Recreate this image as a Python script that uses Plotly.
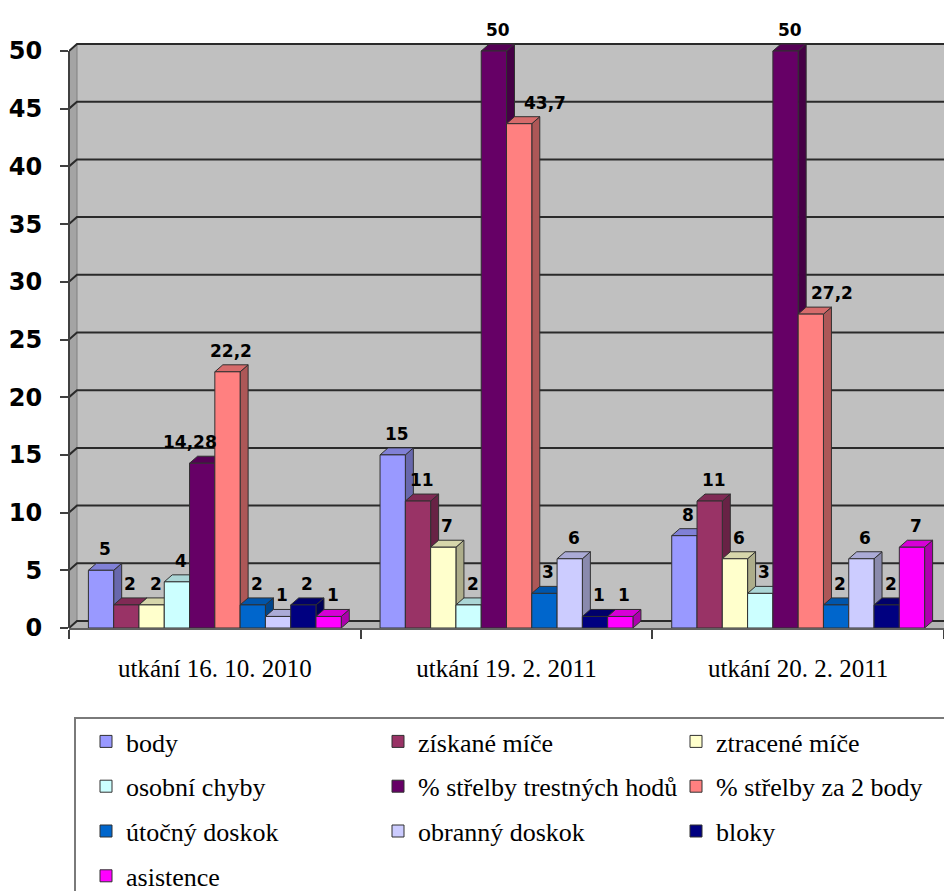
import plotly.graph_objects as go

# ---- data -------------------------------------------------------------
categories = ["utkání 16. 10. 2010", "utkání 19. 2. 2011", "utkání 20. 2. 2011"]

series_names = [
    "body", "získané míče", "ztracené míče", "osobní chyby",
    "% střelby trestných hodů", "% střelby za 2 body",
    "útočný doskok", "obranný doskok", "bloky", "asistence",
]

body = [5, 15, 8]
ziskane_mice = [2, 11, 11]
ztracene_mice = [2, 7, 6]
osobni_chyby = [4, 2, 3]
strelba_trestne = [14.28, 50, 50]
strelba_za_2 = [22.2, 43.7, 27.2]
utocny_doskok = [2, 3, 2]
obranny_doskok = [1, 6, 6]
bloky = [2, 1, 2]
asistence = [1, 1, 7]

series_values = [
    body, ziskane_mice, ztracene_mice, osobni_chyby, strelba_trestne,
    strelba_za_2, utocny_doskok, obranny_doskok, bloky, asistence,
]

y_ticks = [0, 5, 10, 15, 20, 25, 30, 35, 40, 45, 50]

# ---- style ------------------------------------------------------------
colors = [
    "#9999FF", "#993366", "#FFFFCC", "#CCFFFF", "#660066",
    "#FF8080", "#0066CC", "#CCCCFF", "#000080", "#FF00FF",
]

W, H = 944, 891
M_L, M_R, M_T, M_B = 69, 0, 21, 263
PLOT_W = W - M_L - M_R
PLOT_H = H - M_T - M_B
X0, X1 = -0.5, 2.5
PX_PER_UNIT = 577 / 50.0
YMAX = PLOT_H / PX_PER_UNIT

DX = 8 / (PLOT_W / (X1 - X0))   # depth of the 3-D boxes, horizontal
DY = 7 / PX_PER_UNIT            # depth of the 3-D boxes, vertical
BW = 0.0867                     # bar width in category units
WALL_TOP = y_ticks[-1]

# label nudges (px) for the few labels that sit off-centre
label_nudge = {(4, 0): -16, (5, 1): 22, (5, 2): 17}

SERIF = "Liberation Serif"


def shade(hex_color, f):
    h = hex_color.lstrip("#")
    r, g, b = (int(h[i:i + 2], 16) for i in (0, 2, 4))
    return "#%02x%02x%02x" % (int(r * f), int(g * f), int(b * f))


def px_to_paper_x(px):
    return (px - M_L) / PLOT_W


def px_to_paper_y(py):
    return (H - M_B - py) / PLOT_H


fig = go.Figure()
shapes = []

# back wall, left wall and floor
shapes.append(dict(type="rect", xref="x", yref="y", layer="below",
                   x0=X0 + DX, x1=X1 + 0.1, y0=DY, y1=WALL_TOP + DY,
                   fillcolor="#C0C0C0", line=dict(width=0)))
shapes.append(dict(type="path", xref="x", yref="y", layer="below",
                   path=f"M{X0},0 L{X0 + DX},{DY} L{X0 + DX},{WALL_TOP + DY} L{X0},{WALL_TOP} Z",
                   fillcolor="#A4A4A4", line=dict(color="#808080", width=1)))
shapes.append(dict(type="path", xref="x", yref="y", layer="below",
                   path=f"M{X0},0 L{X0 + DX},{DY} L{X1 + 0.1},{DY} L{X1 + 0.1},0 Z",
                   fillcolor="#B4B4B4", line=dict(width=0)))

# gridlines on the walls
for v in y_ticks:
    shapes.append(dict(type="path", xref="x", yref="y", layer="below",
                       path=f"M{X0},{v} L{X0 + DX},{v + DY} L{X1 + 0.1},{v + DY}",
                       line=dict(color="#2a2a2a", width=2)))

annotations = []
for k, (name, vals, col) in enumerate(zip(series_names, series_values, colors)):
    offset = (k - 4.5) * BW
    xs = [i + offset for i in range(len(categories))]
    col_idx = k % 3
    fig.add_trace(go.Bar(
        x=xs, y=vals, width=BW, name=name,
        marker=dict(color=col, line=dict(color="#303030", width=1)),
        legend="legend" if col_idx == 0 else "legend%d" % (col_idx + 1),
        legendgroup="g%d" % k,
        hoverinfo="skip",
    ))
    for i, (x, v) in enumerate(zip(xs, vals)):
        xl, xr = x - BW / 2, x + BW / 2
        # right side face
        shapes.append(dict(type="path", xref="x", yref="y", layer="below",
                           path=f"M{xr},0 L{xr + DX},{DY} L{xr + DX},{v + DY} L{xr},{v} Z",
                           fillcolor=shade(col, 0.68), line=dict(color="#303030", width=1)))
        # top face
        shapes.append(dict(type="path", xref="x", yref="y", layer="below",
                           path=f"M{xl},{v} L{xl + DX},{v + DY} L{xr + DX},{v + DY} L{xr},{v} Z",
                           fillcolor=shade(col, 0.84), line=dict(color="#303030", width=1)))
        annotations.append(dict(
            x=x + DX / 2, y=v + DY, xref="x", yref="y",
            text=str(v).replace(".", ","), showarrow=False,
            yanchor="bottom", yshift=2, xshift=label_nudge.get((k, i), 0),
            font=dict(family="DejaVu Sans", size=17, color="black", weight="bold"),
        ))

# front-left axis edge, up to the top of the wall
shapes.append(dict(type="line", xref="paper", yref="paper", layer="above",
                   x0=0, x1=0, y0=0, y1=WALL_TOP / YMAX,
                   line=dict(color="#404040", width=2)))

# legend frame
shapes.append(dict(type="rect", xref="paper", yref="paper", layer="above",
                   x0=px_to_paper_x(75), x1=px_to_paper_x(960),
                   y0=px_to_paper_y(905), y1=px_to_paper_y(718),
                   line=dict(color="#7a7a7a", width=2), fillcolor="rgba(0,0,0,0)"))

# three legend columns, each item in its own group so the rows can be spaced
legend_font = dict(family=SERIF, size=26, color="black")
column_x = [86, 378, 676]
legends = {}
for c, xpx in enumerate(column_x):
    key = "legend" if c == 0 else "legend%d" % (c + 1)
    legends[key] = dict(
        orientation="v", xref="container", yref="container",
        x=xpx / W, y=1 - 718 / H, xanchor="left", yanchor="top",
        font=legend_font, bgcolor="rgba(0,0,0,0)", borderwidth=0,
        traceorder="grouped", tracegroupgap=8,
    )

fig.update_layout(
    width=W, height=H,
    font=dict(family=SERIF, size=24, color="black"),
    margin=dict(l=M_L, r=M_R, t=M_T, b=M_B, pad=0, autoexpand=False),
    paper_bgcolor="white", plot_bgcolor="rgba(0,0,0,0)",
    barmode="overlay",
    showlegend=True,
    shapes=shapes,
    annotations=annotations,
    xaxis=dict(
        range=[X0, X1], tickvals=list(range(len(categories))), ticktext=categories,
        ticks="", showgrid=False, zeroline=False,
        showline=True, linecolor="#606060", linewidth=2,
        tickfont=dict(family=SERIF, size=25, color="black"),
        ticklabelstandoff=17,
        minor=dict(tickvals=[X0 + i for i in range(len(categories) + 1)],
                   ticks="outside", ticklen=9, tickwidth=2, tickcolor="#404040"),
    ),
    yaxis=dict(
        range=[0, YMAX], tickvals=y_ticks, ticks="outside", ticklen=8,
        tickwidth=2, tickcolor="#404040", showgrid=False, zeroline=False,
        showline=False,
        tickfont=dict(family="DejaVu Sans", size=24, color="black", weight="bold"),
        ticklabelstandoff=13,
    ),
    **legends,
)

fig.write_html("out.html")
